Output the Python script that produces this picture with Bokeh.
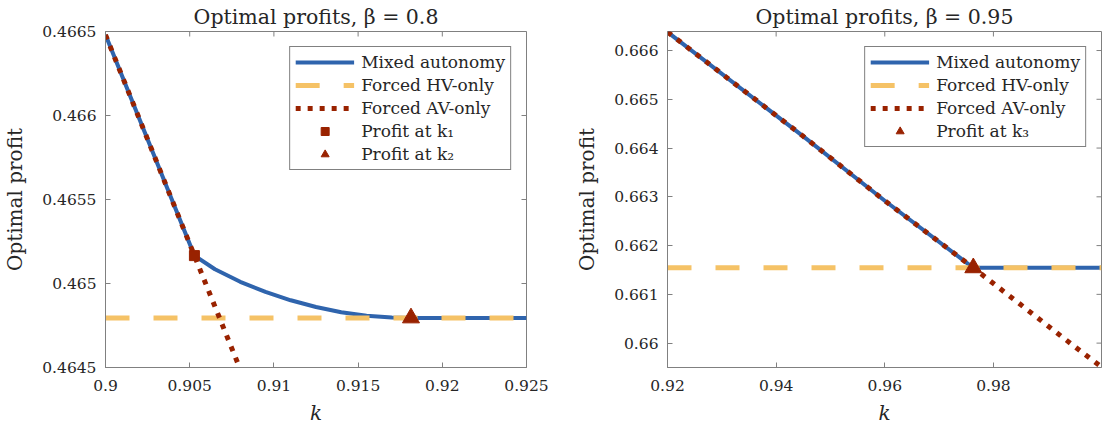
import numpy as np
from bokeh.plotting import figure
from bokeh.layouts import row
from bokeh.models import Range1d, FixedTicker, CustomJSTickFormatter, Legend, LegendItem
from bokeh.embed import file_html
from bokeh.resources import INLINE

# ---- beta = 0.8 ----------------------------------------------------------
k_mixed_a = [0.9, 0.90528, 0.9065, 0.908, 0.9095, 0.911, 0.9125, 0.914, 0.9155, 0.917, 0.9181, 0.925]
profit_mixed_a = [0.46648, 0.465166, 0.465085, 0.465010, 0.464950, 0.464900, 0.464860,
                  0.464829, 0.464808, 0.464797, 0.464795, 0.464795]
k_hv_a = [0.9, 0.925]
profit_hv_a = [0.464795, 0.464795]
k_av_a = [0.9, 0.90528, 0.9085]
profit_av_a = [0.46648, 0.465166, 0.464365]
k1_a = [0.90528]
profit_k1_a = [0.465166]
k2_a = [0.91814]
profit_k2_a = [0.464795]
xticks_a = [0.9, 0.905, 0.91, 0.915, 0.92, 0.925]
xlabels_a = ["0.9", "0.905", "0.91", "0.915", "0.92", "0.925"]
yticks_a = [0.4645, 0.465, 0.4655, 0.466, 0.4665]
ylabels_a = ["0.4645", "0.465", "0.4655", "0.466", "0.4665"]

# ---- beta = 0.95 ---------------------------------------------------------
k_mixed_b = [0.92, 0.945, 0.96, 0.9763, 0.9999]
profit_mixed_b = [0.66638, 0.66424, 0.66292, 0.661544, 0.661544]
k_hv_b = [0.92, 0.9999]
profit_hv_b = [0.661544, 0.661544]
k_av_b = [0.92, 0.945, 0.96, 0.9763, 0.985, 0.9925, 0.9999]
profit_av_b = [0.66638, 0.66424, 0.66292, 0.661544, 0.66079, 0.66014, 0.65951]
k3_b = [0.9763]
profit_k3_b = [0.661544]
xticks_b = [0.92, 0.94, 0.96, 0.98]
xlabels_b = ["0.92", "0.94", "0.96", "0.98"]
yticks_b = [0.66, 0.661, 0.662, 0.663, 0.664, 0.665, 0.666]
ylabels_b = ["0.66", "0.661", "0.662", "0.663", "0.664", "0.665", "0.666"]

BLUE = "#2f64ad"
YELLOW = "#f5c266"
RED = "#992200"
FRAME = "#808080"
TEXT = "#262626"
FONT = "DejaVu Serif"


def label_formatter(tick_values, tick_labels):
    return CustomJSTickFormatter(
        args=dict(tvals=tick_values, tlabels=tick_labels),
        code="const i = tvals.findIndex(t => Math.abs(t - tick) < 1e-9); return i >= 0 ? tlabels[i] : '';",
    )


def panel(title, width, border_left, border_right, xr, yr, xt, xl, yt, yl):
    p = figure(width=width, height=427, x_range=Range1d(*xr), y_range=Range1d(*yr),
               output_backend="svg", toolbar_location=None,
               min_border_left=border_left, min_border_right=border_right,
               min_border_top=28, min_border_bottom=60)
    p.title.text = title
    p.title.text_font = FONT
    p.title.text_font_size = "20.5px"
    p.title.text_font_style = "normal"
    p.title.text_color = TEXT
    p.title.align = "center"
    p.title.standoff = 5
    p.xgrid.visible = False
    p.ygrid.visible = False
    p.outline_line_color = FRAME
    p.outline_line_alpha = 1
    p.outline_line_width = 1
    p.background_fill_color = "white"
    p.border_fill_color = "white"

    p.xaxis.ticker = FixedTicker(ticks=xt)
    p.yaxis.ticker = FixedTicker(ticks=yt)
    p.xaxis.formatter = label_formatter(xt, xl)
    p.yaxis.formatter = label_formatter(yt, yl)
    p.xaxis.axis_label = "k"
    p.yaxis.axis_label = "Optimal profit"
    p.xaxis.axis_label_text_font_style = "italic"
    p.yaxis.axis_label_text_font_style = "normal"
    for ax in (p.xaxis[0], p.yaxis[0]):
        ax.axis_line_color = FRAME
        ax.major_tick_line_color = FRAME
        ax.major_tick_in = 5
        ax.major_tick_out = 0
        ax.minor_tick_line_color = None
        ax.major_label_text_font = FONT
        ax.major_label_text_font_size = "15.5px"
        ax.major_label_text_color = TEXT
        ax.axis_label_text_font = FONT
        ax.axis_label_text_font_size = "20px"
        ax.axis_label_text_color = TEXT
    p.xaxis.major_label_standoff = 12
    p.yaxis.major_label_standoff = 9
    p.xaxis.axis_label_standoff = 7
    p.yaxis.axis_label_standoff = 12

    # inward ticks mirrored on the top and right edges of the box
    p.ray(x=xt, y=[yr[1]] * len(xt), length=5, length_units="screen",
          angle=-np.pi / 2, line_color=FRAME, line_width=1)
    p.ray(x=[xr[1]] * len(yt), y=yt, length=5, length_units="screen",
          angle=np.pi, line_color=FRAME, line_width=1)
    return p


def style_legend(p, items):
    leg = Legend(items=items, location="top_right")
    leg.margin = 15
    leg.padding = 5
    leg.spacing = 3
    leg.glyph_width = 59
    leg.glyph_height = 20
    leg.label_height = 20
    leg.label_standoff = 7
    leg.border_line_color = FRAME
    leg.border_line_width = 1
    leg.border_line_alpha = 1
    leg.background_fill_color = "white"
    leg.background_fill_alpha = 1
    leg.label_text_font = FONT
    leg.label_text_font_size = "17px"
    leg.label_text_color = TEXT
    p.add_layout(leg)


# left panel
pa = panel("Optimal profits, β = 0.8", 560, 101, 34, (0.9, 0.925), (0.4645, 0.4665),
           xticks_a, xlabels_a, yticks_a, ylabels_a)
ra_mixed = pa.line(k_mixed_a, profit_mixed_a, line_color=BLUE, line_width=4)
ra_hv = pa.line(k_hv_a, profit_hv_a, line_color=YELLOW, line_width=5, line_dash="24 24")
ra_av = pa.line(k_av_a, profit_av_a, line_color=RED, line_width=5, line_dash="5 7")
ra_k1 = pa.scatter(k1_a, profit_k1_a, marker="square", size=10, fill_color=RED, line_color=RED)
ra_k2 = pa.scatter(k2_a, profit_k2_a, marker="triangle", size=17, fill_color=RED, line_color=RED)
style_legend(pa, [
    LegendItem(label="Mixed autonomy", renderers=[ra_mixed]),
    LegendItem(label="Forced HV-only", renderers=[ra_hv]),
    LegendItem(label="Forced AV-only", renderers=[ra_av]),
    LegendItem(label="Profit at k₁", renderers=[ra_k1]),
    LegendItem(label="Profit at k₂", renderers=[ra_k2]),
])

# right panel
pb = panel("Optimal profits, β = 0.95", 544, 107, 3, (0.92, 0.9999), (0.6595, 0.66639),
           xticks_b, xlabels_b, yticks_b, ylabels_b)
rb_mixed = pb.line(k_mixed_b, profit_mixed_b, line_color=BLUE, line_width=4)
rb_hv = pb.line(k_hv_b, profit_hv_b, line_color=YELLOW, line_width=5, line_dash="24 24")
rb_av = pb.line(k_av_b, profit_av_b, line_color=RED, line_width=5, line_dash="5 7")
rb_k3 = pb.scatter(k3_b, profit_k3_b, marker="triangle", size=17, fill_color=RED, line_color=RED)
style_legend(pb, [
    LegendItem(label="Mixed autonomy", renderers=[rb_mixed]),
    LegendItem(label="Forced HV-only", renderers=[rb_hv]),
    LegendItem(label="Forced AV-only", renderers=[rb_av]),
    LegendItem(label="Profit at k₃", renderers=[rb_k3]),
])

layout = row(pa, pb, spacing=0)
open("out.html", "w").write(file_html(layout, INLINE))
